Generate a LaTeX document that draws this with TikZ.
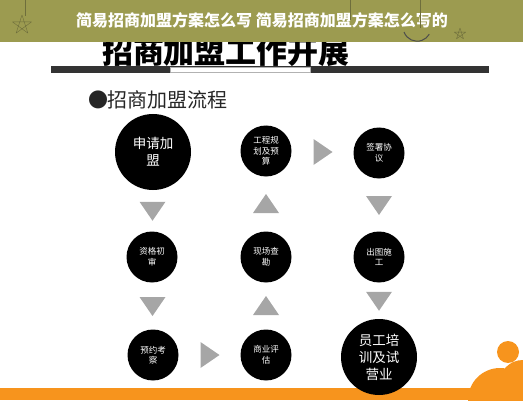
\documentclass[tikz,border=0pt]{standalone}
\usepackage{fontspec}
\newfontfamily\cjk{Noto Sans CJK SC}
\usetikzlibrary{calc}
\definecolor{bannerolive}{RGB}{156,155,80}
\definecolor{decoolive}{RGB}{110,110,60}
\definecolor{bardark}{RGB}{51,51,51}
\definecolor{trigray}{RGB}{166,166,166}
\definecolor{baseorange}{RGB}{247,148,29}
\tikzset{
  bub/.style={circle,fill=black,text=white,inner sep=0pt,minimum size=51pt,align=center,font=\cjk\fontsize{8.5}{10.5}\selectfont},
  bigbub/.style={bub,minimum size=76pt,font=\cjk\fontsize{13.5}{17}\selectfont},
  tri/.pic={\fill[trigray] (-9,-13)--(10,0)--(-9,13)--cycle;}
}
\begin{document}
\begin{tikzpicture}[x=1pt,y=1pt,line join=round]
	\useasboundingbox (0,0) rectangle (523,400);
	% heading, half hidden by the banner
	\node[font=\cjk\bfseries\fontsize{31}{31}\selectfont] (head) at (226,348) {招商加盟工作开展};
	\fill[bannerolive] (0,358) rectangle (523,400);
	\node[text=white,font=\cjk\bfseries\fontsize{16}{16}\selectfont] (title) at (262,380) {简易招商加盟方案怎么写 简易招商加盟方案怎么写的};
	% stars and moon
	\draw[decoolive,thin] (25,400)--(25,384) (350,400)--(350,380) (420,400)--(420,372);
	\draw[decoolive,thin] (22,375) +(90:10) -- +(234:10) -- +(18:10) -- +(162:10) -- +(306:10) -- cycle;
	\draw[decoolive,thin] (460,366) +(90:6) -- +(234:6) -- +(18:6) -- +(162:6) -- +(306:6) -- cycle;
	\draw[black!70,line width=1pt] (404,368) arc[start angle=200,end angle=330,radius=14];
	% bar under the heading
	\fill[bardark] (51,327) rectangle (489,334);
	\draw[gray!60,fill=white] (170,328) rectangle (310,333);
	\node[text=black!85,font=\cjk\fontsize{20}{20}\selectfont] (sub) at (158,300) {●招商加盟流程};
	% orange foot
	\fill[baseorange] (0,0) rectangle (523,12);
	\fill[baseorange] (500,0) circle (32) (523,16) circle (24) (508,48) circle (11);
	% steps
	\foreach \p/\x/\y/\st/\t in {
		n1/153/248/bigbub/{申请加\\盟},
		n2/266/249/bub/{工程规\\划及预\\算},
		n3/379/247/bub/{签署协\\议},
		n4/152/143/bub/{资格初\\审},
		n5/266/143/bub/{现场查\\勘},
		n6/379/143/bub/{出图施\\工},
		n7/153/45/bub/{预约考\\察},
		n8/266/45/bub/{商业评\\估},
		n9/379/43/bigbub/{员工培\\训及试\\营业}}
		\node[\st] (\p) at (\x,\y) {\t};
	\foreach \a/\b/\r in {n1/n4/-90,n2/n5/90,n3/n6/-90,n4/n7/-90,n5/n8/90,n6/n9/-90}
		\pic[rotate=\r] at ($(\a.south)!.5!(\b.north)$) {tri};
	\foreach \a/\b in {n2/n3,n7/n8}
		\pic at ($(\a.east)!.5!(\b.west)$) {tri};
\end{tikzpicture}
\end{document}
